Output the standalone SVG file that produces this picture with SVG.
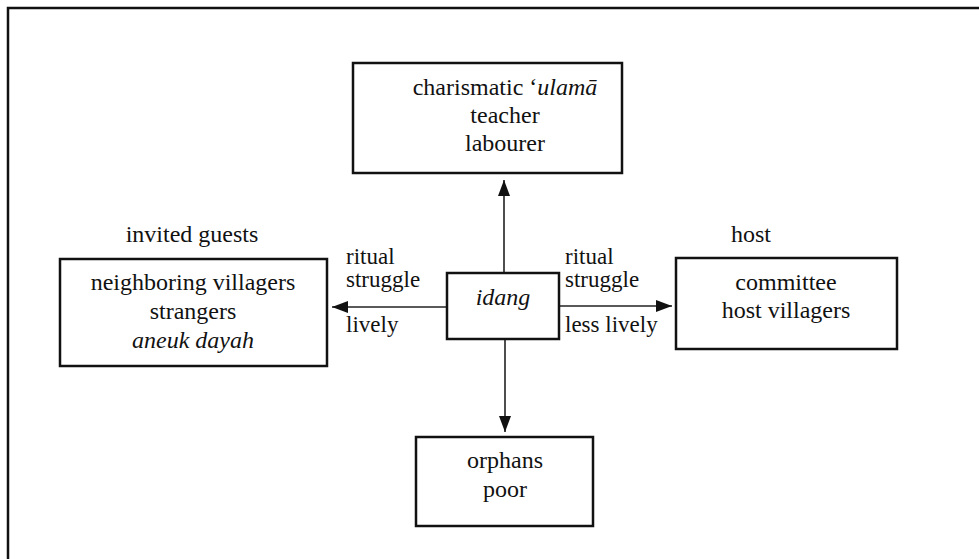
<svg xmlns="http://www.w3.org/2000/svg" width="979" height="559" viewBox="0 0 979 559">
  <style>
    text { font-family: 'Times New Roman', 'Liberation Serif', Tinos, 'DejaVu Serif', serif; font-size: 24px; fill: #111; }
    .c { text-anchor: middle; }
    .i { font-style: italic; }
    .lbl { font-size: 23px; }
    .box { fill: none; stroke: #111; stroke-width: 2.5; }
    .edge { fill: none; stroke: #222; stroke-width: 1.6; }
  </style>
  <defs>
    <marker id="arrow" viewBox="0 0 16 12" refX="16" refY="6" markerWidth="16" markerHeight="12" markerUnits="userSpaceOnUse" orient="auto">
      <path d="M0,0 L16,6 L0,12 Z" fill="#111"/>
    </marker>
  </defs>
  <rect width="979" height="559" fill="#fff"/>
  <!-- outer frame (left and top edges) -->
  <path d="M8,559 L8,8 L979,8" fill="none" stroke="#111" stroke-width="2.5"/>

  <g id="connectors">
    <line class="edge" x1="504" y1="273" x2="504" y2="180" marker-end="url(#arrow)"/>
    <line class="edge" x1="447" y1="307" x2="332" y2="307" marker-end="url(#arrow)"/>
    <line class="edge" x1="559" y1="306" x2="672" y2="306" marker-end="url(#arrow)"/>
    <line class="edge" x1="505" y1="339" x2="505" y2="432" marker-end="url(#arrow)"/>
    <text class="lbl" x="346" y="264">ritual</text>
    <text class="lbl" x="346" y="287">struggle</text>
    <text class="lbl" x="346" y="332">lively</text>
    <text class="lbl" x="565" y="264">ritual</text>
    <text class="lbl" x="565" y="287">struggle</text>
    <text class="lbl" x="565" y="332">less lively</text>
  </g>

  <g id="idang">
    <rect class="box" x="447" y="273" width="112" height="66"/>
    <text class="c i" x="503" y="305">idang</text>
  </g>

  <g id="elite">
    <rect class="box" x="353" y="63" width="269" height="110"/>
    <text class="c" x="505" y="95">charismatic ‘<tspan class="i">ulamā</tspan></text>
    <text class="c" x="505" y="123">teacher</text>
    <text class="c" x="505" y="151">labourer</text>
  </g>

  <g id="guests">
    <text class="c" x="192" y="242">invited guests</text>
    <rect class="box" x="60" y="259" width="267" height="107"/>
    <text class="c" x="193" y="290">neighboring villagers</text>
    <text class="c" x="193" y="319">strangers</text>
    <text class="c i" x="193" y="348">aneuk dayah</text>
  </g>

  <g id="host">
    <text class="c" x="751" y="242">host</text>
    <rect class="box" x="676" y="258" width="221" height="91"/>
    <text class="c" x="786" y="290">committee</text>
    <text class="c" x="786" y="318">host villagers</text>
  </g>

  <g id="needy">
    <rect class="box" x="416" y="437" width="177" height="89"/>
    <text class="c" x="505" y="468">orphans</text>
    <text class="c" x="505" y="497">poor</text>
  </g>
</svg>
